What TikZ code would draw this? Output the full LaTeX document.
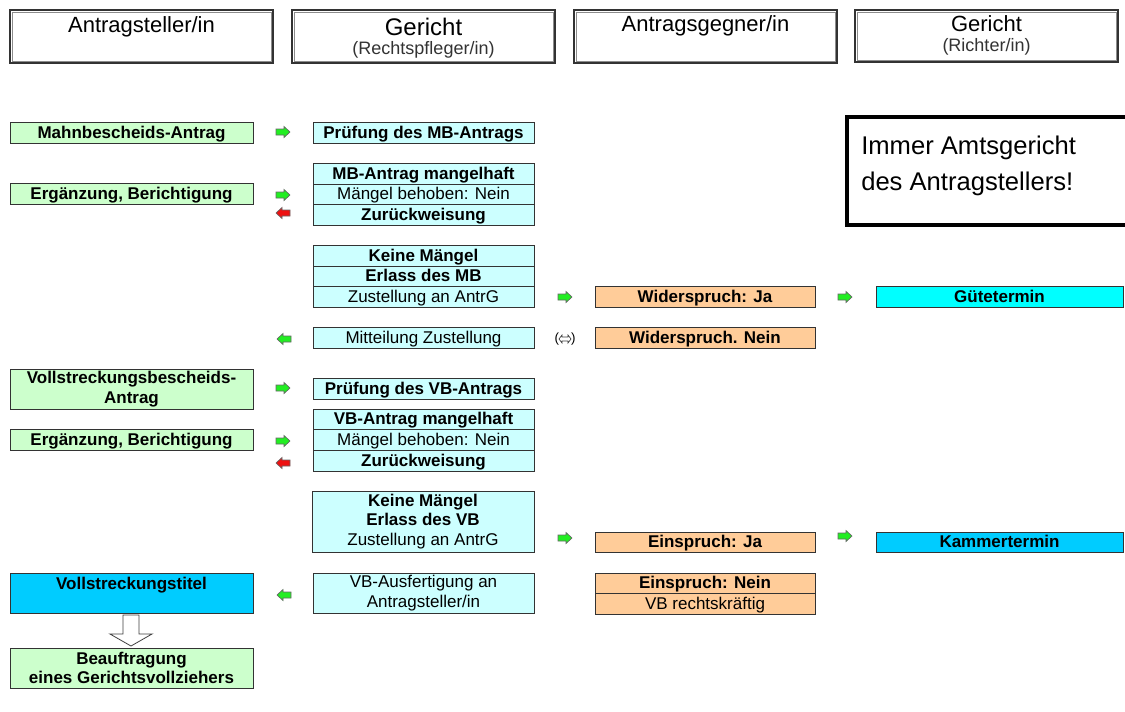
\documentclass[tikz,border=0pt]{standalone}
\usepackage{fontspec}
\setmainfont{Liberation Sans}
\usetikzlibrary{calc}
\definecolor{cgreen}{HTML}{CCFFCC}
\definecolor{ccyan}{HTML}{CCFFFF}
\definecolor{corange}{HTML}{FFCC99}
\definecolor{cblue}{HTML}{00CCFF}
\definecolor{caqua}{HTML}{00FFFF}
\definecolor{agreen}{HTML}{22EE22}
\definecolor{ared}{HTML}{EE1111}
\newcommand\fb{\fontsize{12.75}{14.5}\selectfont\bfseries}
\newcommand\fr{\fontsize{12.75}{14.5}\selectfont}
\newcommand\mybox[7]{\node[bx,#6,minimum width={(#4-#2)*0.75pt},minimum height={(#5-#3)*0.75pt}] (#1) at ({(#2+#4)/2},{(#3+#5)/2}) {#7};}
\tikzset{
  bx/.style={draw=black!80, line width=0.75pt, inner sep=0pt, align=center, text height=10pt, text depth=1.6pt, font=\fb},
  ml/.style={text height=, text depth=},
  gbox/.style={fill=cgreen},
  cbox/.style={fill=ccyan},
  obox/.style={fill=corange},
  bbox/.style={fill=cblue},
  abox/.style={fill=caqua},
  reg/.style={font=\fr},
  hdr/.style={draw=black!80, line width=0.8pt},
  hin/.style={draw=black!45, line width=0.6pt},
  htext/.style={anchor=base, inner sep=0pt},
  rarr/.pic={\path[pic actions] (-7,-3)--(1,-3)--(1,-5.5)--(7,0)--(1,5.5)--(1,3)--(-7,3)--cycle;},
  larr/.pic={\path[pic actions] (7,-3)--(-1,-3)--(-1,-5.5)--(-7,0)--(-1,5.5)--(-1,3)--(7,3)--cycle;},
  ga/.style={draw=black!60, fill=agreen, line width=0.5pt},
  ra/.style={draw=black!60, fill=ared, line width=0.5pt},
  hollow/.style={draw=black!75, fill=white, line width=0.6pt},
}
\begin{document}
\begin{tikzpicture}[x=0.75pt,y=-0.75pt]
\clip (0,0) rectangle (1125,711);
\fill[white] (0,0) rectangle (1125,711);

% headers
\mybox{h1}{10}{10}{273}{63}{hdr}{}
\mybox{h2}{292}{10}{555}{63}{hdr}{}
\mybox{h3}{574}{10}{837}{63}{hdr}{}
\mybox{h4}{855}{10}{1118}{62}{hdr}{}
\foreach \h in {h1,h2,h3,h4}{
  \draw[hin] ($(\h.north west)+(2.5,2.5)$) rectangle ($(\h.south east)+(-2.5,-2.5)$);
}
\node[htext, font=\fontsize{16.5}{18}\selectfont] (h1t) at (141.5,32) {Antragsteller/in};
\node[htext, font=\fontsize{18}{20}\selectfont] (h2t) at (423.5,35) {Gericht};
\node[htext, font=\fontsize{13.5}{15}\selectfont, text=black!80] (h2s) at (423.5,54) {(Rechtspfleger/in)};
\node[htext, font=\fontsize{16.5}{18}\selectfont] (h3t) at (705.5,31) {Antragsgegner/in};
\node[htext, font=\fontsize{16.5}{18}\selectfont] (h4t) at (986.5,31) {Gericht};
\node[htext, font=\fontsize{13.5}{15}\selectfont, text=black!80] (h4s) at (986.5,51) {(Richter/in)};

% note box
\node[draw=black, line width=3pt, minimum width={293*0.75pt}, minimum height={108*0.75pt}, inner sep=0pt] (note) at (993.5,171) {};
\node[anchor=west, inner sep=0pt, align=left, font=\fontsize{19.2}{27}\selectfont] (notet) at (861,166) {Immer Amtsgericht\\des Antragstellers!};

% column 1
\mybox{a1}{10}{122}{253}{143}{gbox}{Mahnbescheids-Antrag}
\mybox{a2}{10}{183}{253}{204}{gbox}{Ergänzung, Berichtigung}
\mybox{a3}{10}{369}{253}{409}{gbox,ml}{Vollstreckungsbescheids-\\Antrag}
\mybox{a4}{10}{429}{253}{450}{gbox}{Ergänzung, Berichtigung}
\mybox{a5}{10}{573}{253}{613}{bbox,ml}{Vollstreckungstitel\\\mbox{}}
\mybox{a6}{10}{648}{253}{688}{gbox,ml}{Beauftragung\\eines Gerichtsvollziehers}

% column 2
\mybox{b1}{313}{122}{534}{143}{cbox}{Prüfung des MB-Antrags}
\mybox{b2}{313}{163}{534}{184}{cbox}{MB-Antrag mangelhaft}
\mybox{b3}{313}{184}{534}{204}{cbox,reg}{Mängel behoben: Nein}
\mybox{b4}{313}{204}{534}{225}{cbox}{Zurückweisung}
\mybox{b5}{313}{245}{534}{266}{cbox}{Keine Mängel}
\mybox{b6}{313}{266}{534}{286}{cbox}{Erlass des MB}
\mybox{b7}{313}{286}{534}{307}{cbox,reg}{Zustellung an AntrG}
\mybox{b8}{313}{327}{534}{348}{cbox,reg}{Mitteilung Zustellung}
\mybox{b9}{313}{378}{534}{399}{cbox}{Prüfung des VB-Antrags}
\mybox{b10}{313}{409}{534}{429}{cbox}{VB-Antrag mangelhaft}
\mybox{b11}{313}{429}{534}{450}{cbox,reg}{Mängel behoben: Nein}
\mybox{b12}{313}{450}{534}{471}{cbox}{Zurückweisung}
\mybox{b13}{312}{491}{534}{552}{cbox,reg,ml}{\textbf{Keine Mängel}\\\textbf{Erlass des VB}\\Zustellung an AntrG}
\mybox{b14}{313}{573}{534}{613}{cbox,reg,ml}{VB-Ausfertigung an\\Antragsteller/in}

% column 3
\mybox{c1}{595}{286}{815}{307}{obox}{Widerspruch: Ja}
\mybox{c2}{595}{327}{815}{348}{obox}{Widerspruch. Nein}
\mybox{c3}{595}{532}{815}{552}{obox}{Einspruch: Ja}
\mybox{c4}{595}{573}{815}{593}{obox}{Einspruch: Nein}
\mybox{c5}{595}{593}{815}{614}{obox,reg}{VB rechtskräftig}

% column 4
\mybox{d1}{876}{286}{1123}{307}{abox}{Gütetermin}
\mybox{d2}{876}{532}{1123}{552}{bbox}{Kammertermin}

% small arrows
\pic[ga] (r1) at (283,132) {rarr};
\pic[ga] (r2) at (283,195) {rarr};
\pic[ra] (l1) at (283,213) {larr};
\pic[ga] (l2) at (284,339) {larr};
\pic[ga] (r3) at (283,388) {rarr};
\pic[ga] (r4) at (283,441) {rarr};
\pic[ra] (l3) at (283,463) {larr};
\pic[ga] (l4) at (284,595) {larr};
\pic[ga] (r5) at (565,297) {rarr};
\pic[ga] (r6) at (565,538) {rarr};
\pic[ga] (r7) at (845,297) {rarr};
\pic[ga] (r8) at (845,536) {rarr};

% (<=>) symbol
\node[inner sep=0pt, font=\fontsize{10}{12}\selectfont] (par) at (565,339) {(\hspace{9pt})};
\draw[hollow, line width=0.5pt, shift={(par.center)}] (-6,0)--(-3,-4)--(-3,-2)--(3,-2)--(3,-4)--(6,0)--(3,4)--(3,2)--(-3,2)--(-3,4)--cycle;

% hollow down arrow
\draw[hollow, shift={(131,615)}] (-8,0) -- (8,0) -- (8,19) -- (21,19) -- (0,31) -- (-21,19) -- (-8,19) -- cycle;
\end{tikzpicture}
\end{document}
